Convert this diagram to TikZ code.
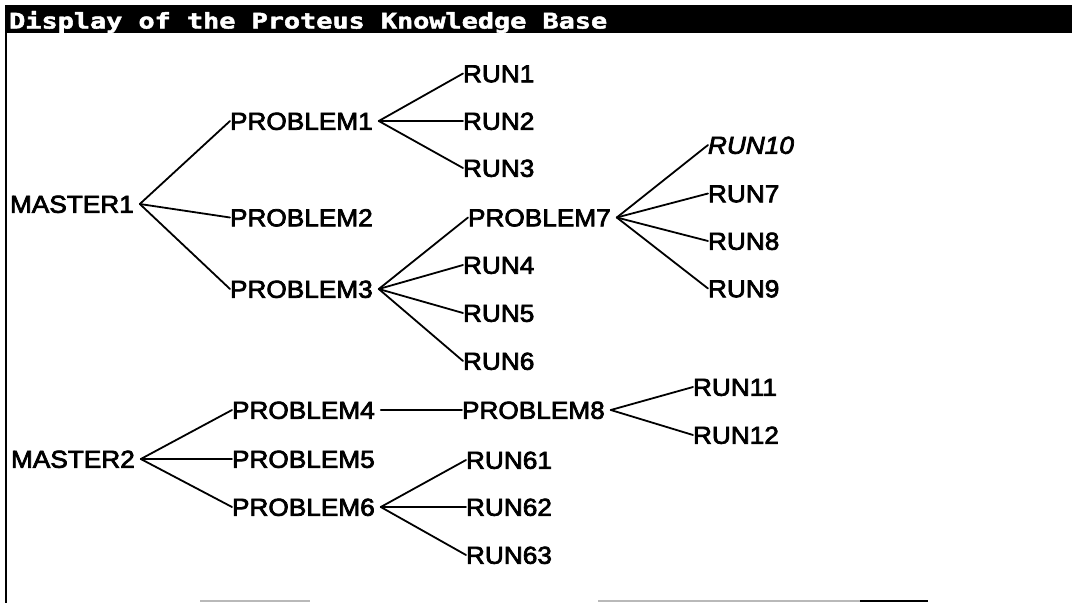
\documentclass[tikz,border=0pt]{standalone}
\usepackage{fontspec}
\usepackage{graphicx}
\setmainfont{Liberation Sans}
\newfontfamily\lblfont[FakeStretch=1.07,FakeBold=3]{Liberation Sans}
\newfontfamily\titlefont[FakeBold=2]{DejaVu Sans Mono Bold}
\begin{document}
\begin{tikzpicture}[x=1pt,y=-1pt,
  lbl/.style={anchor=west, inner sep=0pt, outer sep=0pt, text height=17.5pt, text depth=0pt,
    font=\lblfont\fontsize{24.5}{24.5}\selectfont},
  itl/.style={font=\lblfont\itshape\fontsize{24.5}{24.5}\selectfont},
  link/.style={line width=1.8pt, line join=round, line cap=round},
  scanline/.style={line width=1.5pt, draw=gray!55}]
\useasboundingbox (0,0) rectangle (1072,603);
\fill[white] (0,0) rectangle (1072,603);
% title bar and frame
\fill[black] (5,5) rectangle (1072,33);
\draw[line width=2.2pt] (6,5) -- (6,603);
\node[anchor=base west, inner sep=0pt, text=white] (title) at (9,28.5)
  {\resizebox{598pt}{17.5pt}{\titlefont Display of the Proteus Knowledge Base}};
% nodes
\node[lbl] (m1) at (10,204) {MASTER1};
\node[lbl] (p1) at (230,121) {PROBLEM1};
\node[lbl] (p2) at (230,217.5) {PROBLEM2};
\node[lbl] (p3) at (230,289) {PROBLEM3};
\node[lbl] (r1) at (463,73.5) {RUN1};
\node[lbl] (r2) at (463,121) {RUN2};
\node[lbl] (r3) at (463,168) {RUN3};
\node[lbl] (p7) at (468,217.5) {PROBLEM7};
\node[lbl] (r4) at (463,265) {RUN4};
\node[lbl] (r5) at (463,313) {RUN5};
\node[lbl] (r6) at (463,361) {RUN6};
\node[lbl,itl] (r10) at (708,145) {RUN10};
\node[lbl] (r7) at (708,193.5) {RUN7};
\node[lbl] (r8) at (708,241) {RUN8};
\node[lbl] (r9) at (708,288.5) {RUN9};
\node[lbl] (m2) at (11,459) {MASTER2};
\node[lbl] (p4) at (232,410) {PROBLEM4};
\node[lbl] (p5) at (232,459) {PROBLEM5};
\node[lbl] (p6) at (232,507) {PROBLEM6};
\node[lbl] (p8) at (462,410) {PROBLEM8};
\node[lbl] (r11) at (693,387) {RUN11};
\node[lbl] (r12) at (693,435) {RUN12};
\node[lbl] (r61) at (466,460) {RUN61};
\node[lbl] (r62) at (466,507) {RUN62};
\node[lbl] (r63) at (466,555) {RUN63};
% connectors
\foreach \a/\b in {m1/p1,m1/p2,m1/p3,p1/r1,p1/r2,p1/r3,p3/p7,p3/r4,p3/r5,p3/r6,
                   p7/r10,p7/r7,p7/r8,p7/r9,m2/p4,m2/p5,m2/p6,p4/p8,p8/r11,p8/r12,
                   p6/r61,p6/r62,p6/r63}
  \draw[link] ([xshift=6pt]\a.east) -- (\b.west);
% faint scan marks at the bottom edge
\draw[scanline] (200,601) -- (310,601);
\draw[scanline] (598,601) -- (860,601);
\draw[line width=1.5pt] (860,601) -- (928,601);
\end{tikzpicture}
\end{document}
